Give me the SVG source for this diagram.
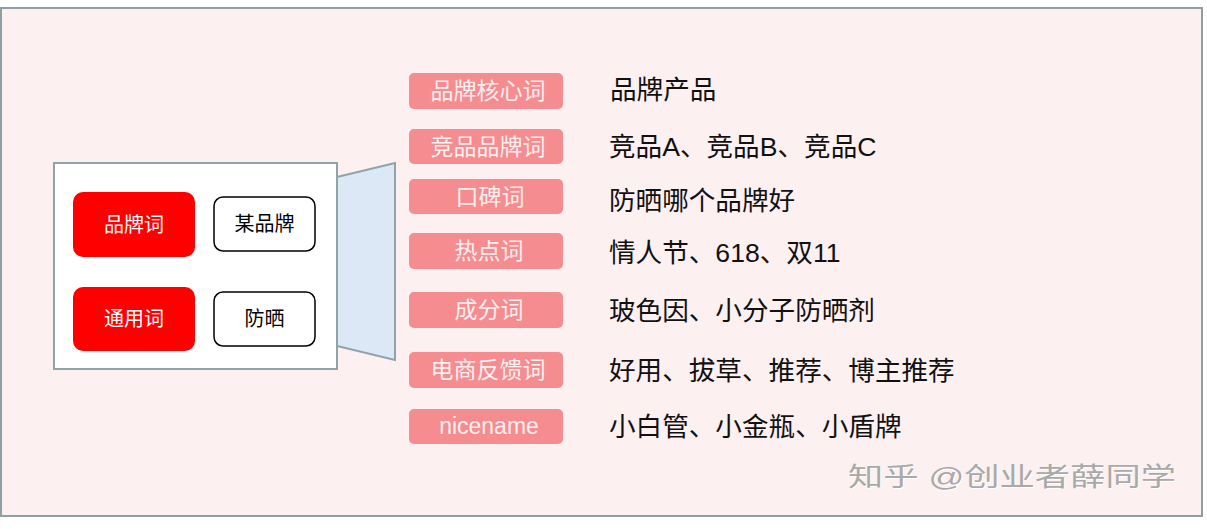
<svg xmlns="http://www.w3.org/2000/svg" width="1207" height="529" viewBox="0 0 1207 529">
<style>
.cjk{font-family:"Liberation Sans","Noto Sans CJK SC",sans-serif}
.lbl{fill:#F58C90}
.lt{font-size:23px;fill:#FDEEEF;text-anchor:middle}
.rt{font-size:26.6px;fill:#111111}
.red{fill:#FF0000}
.wb{fill:#FFFFFF;stroke:#000;stroke-width:1.5}
.bt{font-size:20px;text-anchor:middle}
.wm{font-size:26px}
</style>
<rect x="0" y="0" width="1207" height="529" fill="#FFFFFF"/>
<rect id="frame" x="1" y="8" width="1201" height="508" fill="#FCF0F1" stroke="#8FA0A2" stroke-width="2"/>

<g id="source">
  <rect x="54" y="163" width="283" height="206" fill="#FFFFFF" stroke="#8FA3A8" stroke-width="2"/>
  <g id="n-brandword">
    <rect class="red" x="73" y="192" width="122" height="65" rx="10"/>
    <text class="cjk bt" x="134" y="231.5" fill="#FFFFFF">品牌词</text>
  </g>
  <g id="n-brand">
    <rect class="wb" x="214" y="197" width="101" height="54" rx="9"/>
    <text class="cjk bt" x="264.5" y="231" fill="#000000">某品牌</text>
  </g>
  <g id="n-generic">
    <rect class="red" x="73" y="287" width="122" height="64" rx="10"/>
    <text class="cjk bt" x="134" y="326" fill="#FFFFFF">通用词</text>
  </g>
  <g id="n-sun">
    <rect class="wb" x="214" y="292" width="101" height="54" rx="9"/>
    <text class="cjk bt" x="264.5" y="326" fill="#000000">防晒</text>
  </g>
</g>

<g id="connectors">
  <polygon points="337,177 395,163 395,360 337,346" fill="#DCE8F5" stroke="#8FA3A8" stroke-width="2"/>
</g>

<g id="l1"><rect class="lbl" x="409" y="73" width="154" height="36" rx="5"/><text class="cjk lt" x="488" y="99">品牌核心词</text></g>
<g id="l2"><rect class="lbl" x="409" y="129" width="154" height="35" rx="5"/><text class="cjk lt" x="488" y="154.5">竞品品牌词</text></g>
<g id="l3"><rect class="lbl" x="409" y="179" width="154" height="35" rx="5"/><text class="cjk lt" x="490" y="204.5">口碑词</text></g>
<g id="l4"><rect class="lbl" x="409" y="233" width="154" height="36" rx="5"/><text class="cjk lt" x="489" y="259">热点词</text></g>
<g id="l5"><rect class="lbl" x="409" y="292" width="154" height="36" rx="5"/><text class="cjk lt" x="489" y="318">成分词</text></g>
<g id="l6"><rect class="lbl" x="409" y="352" width="154" height="36" rx="5"/><text class="cjk lt" x="488" y="378">电商反馈词</text></g>
<g id="l7"><rect class="lbl" x="409" y="409" width="154" height="35" rx="5"/><text class="cjk lt" x="489" y="434">nicename</text></g>

<g id="values">
  <text class="cjk rt" x="610" y="99">品牌产品</text>
  <text class="cjk rt" x="609" y="156">竞品A、竞品B、竞品C</text>
  <text class="cjk rt" x="609" y="210">防晒哪个品牌好</text>
  <text class="cjk rt" x="609" y="262">情人节、618、双11</text>
  <text class="cjk rt" x="609" y="320">玻色因、小分子防晒剂</text>
  <text class="cjk rt" x="609" y="380">好用、拔草、推荐、博主推荐</text>
  <text class="cjk rt" x="609" y="436">小白管、小金瓶、小盾牌</text>
</g>

<g id="watermark">
  <text class="cjk wm" x="849" y="487" fill="#FFFFFF" textLength="328" lengthAdjust="spacingAndGlyphs">知乎 @创业者薛同学</text>
  <text class="cjk wm" x="848" y="486" fill="#A9A9A9" textLength="328" lengthAdjust="spacingAndGlyphs">知乎 @创业者薛同学</text>
</g>
</svg>
